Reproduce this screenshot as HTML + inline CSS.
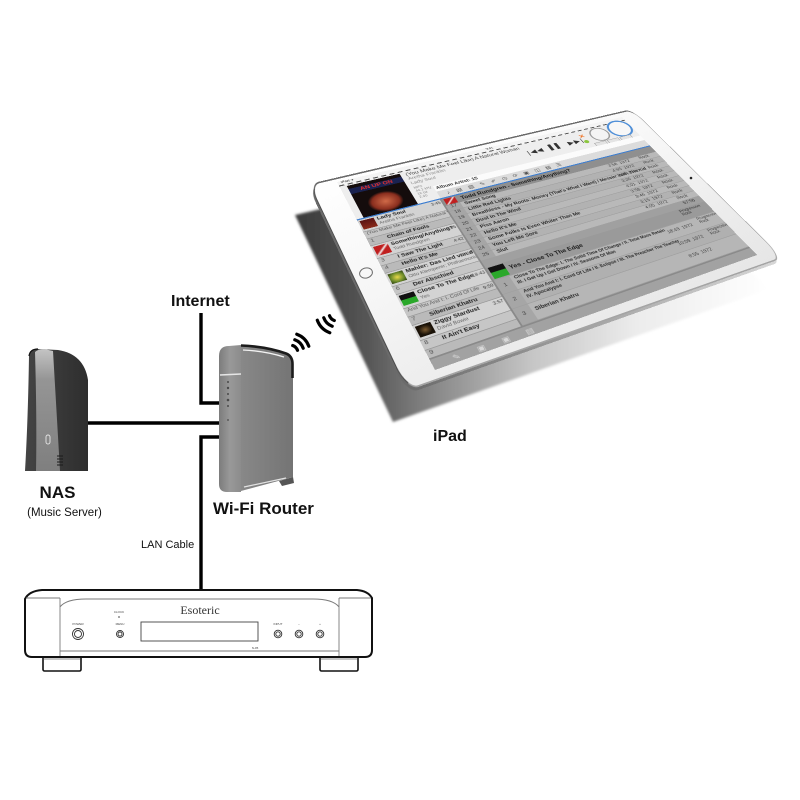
<!DOCTYPE html>
<html><head><meta charset="utf-8">
<style>
html,body{margin:0;padding:0;background:#fff;}
#w{position:relative;width:800px;height:800px;overflow:hidden;background:#fff;font-family:"Liberation Sans",sans-serif;}
.abs{position:absolute;left:0;top:0;}
.r{position:absolute;}
.bz{width:440px;height:330px;transform-origin:0 0;border-radius:11px / 30px;box-sizing:border-box;}
#thick{transform:translate(-0.6px,3.2px) matrix3d(1.01264,-0.122409,0,0.00044075,0.027061,0.367970,0,-0.00066315,0,0,1,0,309,184,0,1);background:linear-gradient(90deg,#6a6a6a 0%,#9a9a9a 35%,#c4c4c4 75%,#d8d8d8 100%);}
#bezel{transform:matrix3d(1.01264,-0.122409,0,0.00044075,0.027061,0.367970,0,-0.00066315,0,0,1,0,309,184,0,1);background:linear-gradient(165deg,#ffffff 0%,#f6f6f6 45%,#e6e6e6 100%);border-top:3px solid #6a6a6a;border-left:1.5px solid #4e4e4e;border-right:1px solid #a8a8a8;border-bottom:2px solid #a4a4a4;}
#scr{width:400px;height:300px;transform-origin:0 0;transform:matrix3d(1.0197,-0.104725,0,0.00049388,0.039967,0.3828,0,-0.0006591,0,0,1,0,337,182,0,1);background:#b3b3b3;overflow:hidden;font-family:"Liberation Sans",sans-serif;color:#222;}
.lrow{position:absolute;left:0;width:100px;border-bottom:1px solid #9a9a9a;font-size:7px;line-height:9px;white-space:nowrap;overflow:hidden;}
.rrow{position:absolute;left:100px;width:300px;border-bottom:1px solid #a0a0a0;font-size:7px;white-space:nowrap;overflow:hidden;}
.num{position:absolute;left:0;top:0;bottom:0;width:18px;background:#a6a6a6;text-align:center;color:#444;}
.tt{position:absolute;left:22px;top:1px;color:#2a2a2a;font-weight:bold;}
.tm{position:absolute;left:222px;top:1px;color:#444;}
.gn{position:absolute;left:270px;top:1px;color:#444;}
.th{position:absolute;left:2px;top:2px;width:16px;height:15px;}
.lt{position:absolute;left:21px;top:1px;font-weight:bold;color:#222;}
.ls{position:absolute;left:21px;top:10px;color:#666;font-size:6px;}
.ld{position:absolute;right:3px;top:2px;color:#444;font-size:6px;}
</style></head><body>
<div id="w">

<svg class="abs" width="800" height="800" viewBox="0 0 800 800">
<defs>
<linearGradient id="sh" gradientUnits="userSpaceOnUse" x1="295" y1="0" x2="770" y2="0">
<stop offset="0" stop-color="#3a3a3a"/><stop offset="0.15" stop-color="#555"/><stop offset="0.3" stop-color="#8a8a8a"/><stop offset="0.5" stop-color="#c6c6c6"/><stop offset="0.72" stop-color="#ececec"/><stop offset="1" stop-color="#ffffff"/>
</linearGradient>
<filter id="bl" x="-5%" y="-5%" width="110%" height="110%"><feGaussianBlur stdDeviation="1.2"/></filter>
</defs>
<polygon points="295,215 618,140 769,289 393,422" fill="url(#sh)" filter="url(#bl)"/>
</svg>

<div id="thick" class="abs bz"></div>
<div id="bezel" class="abs bz"></div>

<div id="scr" class="abs">
 <div class="r" style="left:0;top:0;width:400px;height:7px;background:#f4f4f4;border-bottom:2px dashed #555;font-size:5px;line-height:7px;color:#222;"><span style="position:absolute;left:4px;">iPad ✈</span><span style="position:absolute;left:190px;">9:41</span></div>
 <div class="r" style="left:0;top:9px;width:400px;height:63px;background:#eeeeee;"></div>
 <div class="r" style="left:8px;top:11px;width:64px;height:60px;background:#140c0c;overflow:hidden;">
  <div class="r" style="left:0;top:6px;width:64px;height:10px;background:#1a2250;color:#e23030;font-size:8px;font-weight:bold;line-height:10px;text-align:center;">AN UP ON</div>
  <div class="r" style="left:12px;top:24px;width:40px;height:36px;border-radius:50%;background:radial-gradient(#d06a48,#8a2e1e 55%,rgba(20,12,12,0) 72%);"></div>
 </div>
 <div class="r" style="left:78px;top:11px;font-size:8px;color:#444;white-space:nowrap;">(You Make Me Feel Like) A Natural Woman</div>
 <div class="r" style="left:78px;top:21px;font-size:7px;color:#8a8a8a;">Aretha Franklin</div>
 <div class="r" style="left:78px;top:30px;font-size:7px;color:#8a8a8a;">Lady Soul</div>
 <div class="r" style="left:78px;top:40px;font-size:5px;color:#888;line-height:6px;">MP3<br>44.1 kHz<br>16 bit<br>2:40</div>
 <div class="r" style="left:236px;top:22px;font-size:11px;color:#333;white-space:nowrap;letter-spacing:1px;font-family:'DejaVu Sans',sans-serif;">|◀◀&nbsp;&nbsp;▌▌&nbsp;&nbsp;▶▶|</div>
 <div class="r" style="left:318px;top:16px;font-size:10px;color:#f07020;font-weight:bold;">✕</div>
 <div class="r" style="left:319px;top:30px;width:7px;height:7px;border-radius:50%;background:#8cc63f;"></div>
 <div class="r" style="left:334px;top:10px;width:24px;height:26px;border-radius:50%;border:2px solid #9a9a9a;background:#f4f4f4;"></div>
 <div class="r" style="left:364px;top:4px;width:30px;height:32px;border-radius:50%;border:3px solid #4f8fd8;background:#f7f7f7;"></div>
 <div class="r" style="left:330px;top:40px;width:16px;height:7px;background:#e4e4e4;border:1px solid #aaa;"></div>
 <div class="r" style="left:350px;top:40px;width:16px;height:7px;background:#e4e4e4;border:1px solid #aaa;"></div>
 <div class="r" style="left:370px;top:40px;width:16px;height:7px;background:#e4e4e4;border:1px solid #aaa;"></div>
 <div class="r" style="left:100px;top:47px;width:300px;height:11px;background:#fbfbfb;font-size:7px;line-height:11px;color:#333;font-weight:bold;">&nbsp;Album Artist: 15</div>
 <div class="r" style="left:100px;top:58px;width:300px;height:13px;background:#dcdcdc;font-size:8px;line-height:13px;color:#555;letter-spacing:8px;white-space:nowrap;">&nbsp;♪▤▥✎✐◷⟳▣◫▤☰</div>
 <div class="r" style="left:0;top:71px;width:400px;height:2px;background:#3f7fd0;"></div>

 <div class="lrow" style="top:73px;height:20px;background:#d3d3d3;"><div class="th" style="background:linear-gradient(#5a1414,#8a2a1a);"></div><span class="lt">Lady Soul</span><span class="ls">Aretha Franklin</span><span class="ld">3:45</span></div>
 <div class="lrow" style="top:94px;height:11px;background:#c6c6c6;font-size:6px;"><span style="position:absolute;left:3px;color:#555;">(You Make Me Feel Like) A Natural Woman</span></div>
 <div class="lrow" style="top:106px;height:11px;background:#bababa;"><span style="position:absolute;left:3px;color:#555;">1</span><span class="lt" style="top:1px;">Chain of Fools</span></div>
 <div class="lrow" style="top:118px;height:20px;background:#d3d3d3;"><div class="th" style="background:linear-gradient(135deg,#c02020 40%,#f0f0f0 50%,#c02020 60%);"></div><span class="lt">Something/Anything?</span><span class="ls">Todd Rundgren</span><span class="ld">3:05</span></div>
 <div class="lrow" style="top:139px;height:11px;background:#c6c6c6;"><span style="position:absolute;left:3px;color:#555;">3</span><span class="lt">I Saw The Light</span><span class="ld">4:42</span></div>
 <div class="lrow" style="top:151px;height:11px;background:#bababa;"><span style="position:absolute;left:3px;color:#555;">4</span><span class="lt">Hello It's Me</span></div>
 <div class="lrow" style="top:163px;height:20px;background:#d3d3d3;"><div class="th" style="background:radial-gradient(#e8d84a,#6b8a2a 60%,#2a3a10);"></div><span class="lt">Mahler: Das Lied von der Erde</span><span class="ls">Otto Klemperer; Philharmonia</span><span class="ld">10:11</span></div>
 <div class="lrow" style="top:184px;height:11px;background:#c6c6c6;"><span style="position:absolute;left:3px;color:#555;">6</span><span class="lt">Der Abschied</span></div>
 <div class="lrow" style="top:196px;height:20px;background:#d3d3d3;"><div class="th" style="background:linear-gradient(#111 45%,#2aa82a 46%);"></div><span class="lt">Close To The Edge</span><span class="ls">Yes</span><span class="ld">18:43</span></div>
 <div class="lrow" style="top:217px;height:11px;background:#c6c6c6;font-size:6px;"><span style="position:absolute;left:3px;color:#555;">And You And I: I. Cord Of Life</span><span class="ld">9:59</span></div>
 <div class="lrow" style="top:229px;height:11px;background:#bababa;"><span style="position:absolute;left:3px;color:#555;">7</span><span class="lt">Siberian Khatru</span></div>
 <div class="lrow" style="top:241px;height:20px;background:#d3d3d3;"><div class="th" style="background:radial-gradient(#7a5a30,#1a1208 60%);"></div><span class="lt">Ziggy Stardust</span><span class="ls">David Bowie</span><span class="ld">3:57</span></div>
 <div class="lrow" style="top:262px;height:12px;background:#c6c6c6;"><span style="position:absolute;left:3px;color:#555;">8</span><span class="lt">It Ain't Easy</span></div>
 <div class="lrow" style="top:275px;height:11px;background:#bababa;"><span style="position:absolute;left:3px;color:#555;">9</span></div>

 <div class="rrow" style="top:73px;height:13px;background:#8f8f8f;"><div class="r" style="left:2px;top:1px;width:14px;height:11px;background:linear-gradient(135deg,#c02020 40%,#f0f0f0 50%,#c02020 60%);"></div><span class="r" style="left:22px;top:2px;font-weight:bold;color:#1a1a1a;font-size:8px;">Todd Rundgren - Something/Anything?</span></div>
 <div class="rrow" style="top:86px;height:10px;background:#b9b9b9;"><div class="num">17</div><span class="tt">Sweet Song</span><span class="tm">3:58&nbsp;&nbsp;1972</span><span class="gn">Rock</span></div>
 <div class="rrow" style="top:97px;height:10px;background:#b2b2b2;"><div class="num">18</div><span class="tt">Little Red Lights</span><span class="tm">4:55&nbsp;&nbsp;1972</span><span class="gn">Rock</span></div>
 <div class="rrow" style="top:108px;height:10px;background:#b9b9b9;"><div class="num">19</div><span class="tt">Breathless - My Roots: Money (That's What I Want) / Messin' With The Kid</span><span class="tm">3:16&nbsp;&nbsp;1972</span><span class="gn">Rock</span></div>
 <div class="rrow" style="top:119px;height:10px;background:#b2b2b2;"><div class="num">20</div><span class="tt">Dust In The Wind</span><span class="tm">3:26&nbsp;&nbsp;1972</span><span class="gn">Rock</span></div>
 <div class="rrow" style="top:130px;height:10px;background:#b9b9b9;"><div class="num">21</div><span class="tt">Piss Aaron</span><span class="tm">4:01&nbsp;&nbsp;1972</span><span class="gn">Rock</span></div>
 <div class="rrow" style="top:141px;height:10px;background:#b2b2b2;"><div class="num">22</div><span class="tt">Hello It's Me</span><span class="tm">3:58&nbsp;&nbsp;1972</span><span class="gn">Rock</span></div>
 <div class="rrow" style="top:152px;height:10px;background:#b9b9b9;"><div class="num">23</div><span class="tt">Some Folks Is Even Whiter Than Me</span><span class="tm">3:46&nbsp;&nbsp;1972</span><span class="gn">Rock</span></div>
 <div class="rrow" style="top:163px;height:10px;background:#b2b2b2;"><div class="num">24</div><span class="tt">You Left Me Sore</span><span class="tm">3:15&nbsp;&nbsp;1972</span><span class="gn">Rock</span></div>
 <div class="rrow" style="top:174px;height:10px;background:#b9b9b9;"><div class="num">25</div><span class="tt">Slut</span><span class="tm">4:05&nbsp;&nbsp;1972</span><span class="gn">Rock</span></div>
 <div class="rrow" style="top:185px;height:10px;background:#a0a0a0;"><span class="r" style="left:272px;top:1px;color:#333;">57:56</span></div>
 <div class="rrow" style="top:196px;height:20px;background:#9a9a9a;"><div class="r" style="left:2px;top:1px;width:18px;height:18px;background:linear-gradient(#111 45%,#2aa82a 46%);"></div><span class="r" style="left:24px;top:5px;font-weight:bold;color:#1a1a1a;font-size:8px;">Yes - Close To The Edge</span><span class="r" style="left:258px;top:2px;color:#333;font-size:6px;">Progressive<br>Rock</span></div>
 <div class="rrow" style="top:217px;height:21px;background:#b6b6b6;"><div class="num" style="line-height:21px;">1</div><span class="tt" style="font-size:6px;line-height:8px;">Close To The Edge: I. The Solid Time Of Change / II. Total Mass Retain<br>III. I Get Up I Get Down / IV. Seasons Of Man</span><span class="tm" style="top:6px;">18:43&nbsp;&nbsp;1972</span><span class="gn" style="font-size:6px;">Progressive<br>Rock</span></div>
 <div class="rrow" style="top:239px;height:21px;background:#b0b0b0;"><div class="num" style="line-height:21px;">2</div><span class="tt" style="font-size:6px;line-height:8px;">And You And I: I. Cord Of Life / II. Eclipse / III. The Preacher The Teacher<br>IV. Apocalypse</span><span class="tm" style="top:6px;">10:09&nbsp;&nbsp;1972</span><span class="gn" style="font-size:6px;">Progressive<br>Rock</span></div>
 <div class="rrow" style="top:261px;height:23px;background:#b6b6b6;"><div class="num" style="line-height:21px;">3</div><span class="tt" style="top:6px;">Siberian Khatru</span><span class="tm" style="top:6px;">8:55&nbsp;&nbsp;1972</span></div>
 <div class="r" style="left:98px;top:73px;width:2px;height:212px;background:#8a8a8a;"></div>
 <div class="r" style="left:0;top:285px;width:400px;height:15px;background:#a2a2a2;border-top:2px solid #8a8a8a;font-size:9px;line-height:14px;color:#d8d8d8;white-space:nowrap;letter-spacing:18px;">&nbsp;✎▣▣▤</div>
</div>

<svg class="abs" width="800" height="800" viewBox="0 0 800 800">
<defs>
<linearGradient id="rf" x1="0" x2="1" y1="0" y2="0"><stop offset="0" stop-color="#888"/><stop offset="1" stop-color="#747474"/></linearGradient>
<linearGradient id="rs" x1="0" x2="1" y1="0" y2="0"><stop offset="0" stop-color="#7c7c7c"/><stop offset="0.5" stop-color="#999"/><stop offset="1" stop-color="#8c8c8c"/></linearGradient>
<linearGradient id="ns" x1="0" y1="0" x2="0" y2="1"><stop offset="0" stop-color="#c4c4c4"/><stop offset="0.25" stop-color="#959595"/><stop offset="1" stop-color="#7f7f7f"/></linearGradient>
<linearGradient id="nb" x1="0" y1="0" x2="1" y2="0"><stop offset="0" stop-color="#444"/><stop offset="1" stop-color="#2e2e2e"/></linearGradient>
</defs>

<ellipse cx="366" cy="273" rx="6.5" ry="5" fill="#f7f7f7" stroke="#6c6c6c" stroke-width="1" transform="rotate(-15 366 273)"/>
<circle cx="691" cy="178" r="1.3" fill="#222"/>

<g stroke="#000" stroke-width="3.4" fill="none" stroke-linejoin="miter">
<path d="M201,313 V403 H220"/>
<path d="M88,423 H220"/>
<path d="M220,437 H201 V591"/>
</g>

<path d="M29,356 Q30,349 38,349 L58,350 Q84,354 88,380 L88,471 L25,471 Q28,420 29,356 Z" fill="url(#nb)"/>
<path d="M35,352 Q38,349 44,349 L53,351 L60,471 L36,471 Q37,420 35,352 Z" fill="url(#ns)"/>
<path d="M29,356 Q30,349 38,349" stroke="#111" stroke-width="1.2" fill="none"/>
<rect x="46" y="435" width="4" height="9" rx="2" fill="none" stroke="#e6e6e6" stroke-width="0.9"/>
<g stroke="#1a1a1a" stroke-width="1">
<line x1="57" y1="456" x2="63" y2="456"/><line x1="57" y1="459" x2="63" y2="459"/><line x1="57" y1="462" x2="63" y2="462"/><line x1="57" y1="465" x2="63" y2="465"/>
</g>

<path d="M219,356 Q219,346 229,346 L241,345 L241,492 L227,492 Q219,492 219,484 Z" fill="url(#rs)"/>
<path d="M241,345 Q266,346 286,353 Q293,356 293,364 L293,477 L241,491 Z" fill="url(#rf)"/>
<path d="M241,345.5 Q266,346.5 286,353.5 Q292.5,356 292.5,364 L292.5,378" stroke="#1c1c1c" stroke-width="2.6" fill="none"/>
<path d="M243,350 Q265,351 284,357" stroke="#f2f2f2" stroke-width="1.3" fill="none"/>
<path d="M220,375 L241,374" stroke="#e6e6e6" stroke-width="1.6"/>
<path d="M244,487 L286,478" stroke="#e2e2e2" stroke-width="1.3"/>
<path d="M279,481 L293,477 L294,483 L282,486 Z" fill="#555"/>
<g fill="#4a4a4a">
<circle cx="228" cy="382" r="1"/><circle cx="228" cy="388" r="1.2"/><circle cx="228" cy="394" r="1"/><circle cx="228" cy="400" r="1.3"/><circle cx="228" cy="406" r="1"/><circle cx="228" cy="420" r="0.9"/>
</g>

<g stroke="#000" stroke-width="3.2" fill="none" stroke-linecap="round">
<path d="M292.7,345.5 A8,8 0 0 1 297.5,350.3"/>
<path d="M294.8,339.8 A14,14 0 0 1 303.2,348.2"/>
<path d="M296.8,334.2 A20,20 0 0 1 308.8,346.2"/>
<path d="M334.3,320.5 A8,8 0 0 1 329.5,315.7"/>
<path d="M332.2,326.2 A14,14 0 0 1 323.8,317.8"/>
<path d="M329.8,332.7 A21,21 0 0 1 317.3,320.2"/>
</g>

<g stroke="#111" fill="#fff" stroke-width="1.6">
<rect x="43" y="654" width="38" height="17" rx="1.5"/>
<rect x="320" y="654" width="38" height="17" rx="1.5"/>
</g>
<line x1="44" y1="659" x2="80" y2="659" stroke="#666" stroke-width="0.8"/>
<line x1="321" y1="659" x2="357" y2="659" stroke="#666" stroke-width="0.8"/>
<path d="M42,590 L357,590 Q368,591 372,598 L372,650 Q372,657 365,657 L32,657 Q25,657 25,650 L25,599 Q29,591 42,590 Z" fill="#fff" stroke="#111" stroke-width="2"/>
<g stroke="#7a7a7a" stroke-width="0.9" fill="none">
<path d="M26,598 L60,598"/>
<path d="M339,598 L371,598"/>
<path d="M60,598 V656"/>
<path d="M339,598 V656"/>
<path d="M60,607 Q66,599 86,599 L313,599 Q333,599 339,607"/>
<path d="M60,651 H339"/>
</g>
<rect x="141" y="622" width="117" height="19" fill="none" stroke="#444" stroke-width="0.9"/>
<text x="200" y="614" font-family="Liberation Serif, serif" font-size="12" fill="#333" text-anchor="middle">Esoteric</text>
<g font-family="Liberation Sans, sans-serif" font-size="3" fill="#444" text-anchor="middle">
<text x="78" y="625">POWER</text>
<text x="119" y="613">CLOCK</text>
<text x="120" y="625">MENU</text>
<text x="278" y="625">INPUT</text>
<text x="299" y="625">−</text>
<text x="320" y="625">+</text>
<text x="255" y="649">N-05</text>
</g>
<circle cx="119" cy="617" r="0.9" fill="#666"/>
<g fill="none" stroke="#333" stroke-width="0.9">
<circle cx="78" cy="634" r="5.5"/><circle cx="78" cy="634" r="3.5"/>
<circle cx="120" cy="634" r="3.5"/><circle cx="120" cy="634" r="2"/>
<circle cx="278" cy="634" r="3.8"/><circle cx="278" cy="634" r="2.2"/>
<circle cx="299" cy="634" r="3.8"/><circle cx="299" cy="634" r="2.2"/>
<circle cx="320" cy="634" r="3.8"/><circle cx="320" cy="634" r="2.2"/>
</g>

<g font-family="Liberation Sans, sans-serif" fill="#111">
<text x="171" y="306" font-size="16" font-weight="bold">Internet</text>
<text x="57.5" y="498" font-size="17" font-weight="bold" text-anchor="middle">NAS</text>
<text x="64.5" y="516" font-size="11.5" text-anchor="middle">(Music Server)</text>
<text x="213" y="514" font-size="17" font-weight="bold">Wi-Fi Router</text>
<text x="141" y="548" font-size="11">LAN Cable</text>
<text x="433" y="441" font-size="16" font-weight="bold">iPad</text>
</g>
</svg>
</div>
</body></html>
